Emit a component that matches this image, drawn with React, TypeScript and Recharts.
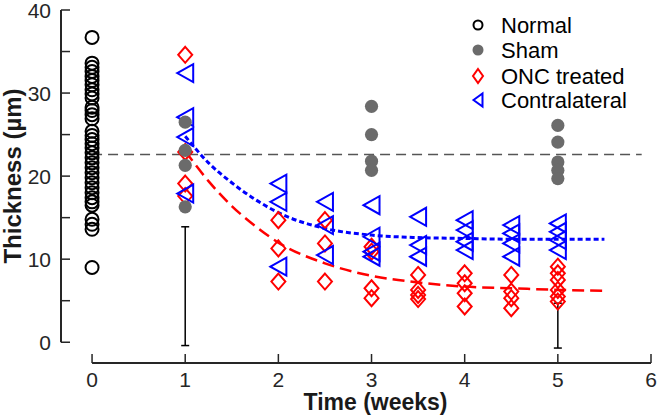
import { ComposedChart, Scatter, Line, XAxis, YAxis, ErrorBar, ReferenceLine, Legend } from "recharts"

// thickness values (µm)
const normalWeek0 = [36.7, 33.6, 33.1, 32.6, 32.0, 31.5, 31.0, 30.4, 29.9, 29.4, 28.3, 27.9, 27.4, 26.9,
  25.4, 24.9, 24.4, 23.9, 23.4, 22.8, 22.2, 21.6, 21.0, 20.4, 19.8, 19.2, 18.6, 18.0, 17.4, 16.9, 16.5,
  14.8, 14.2, 13.6, 9.0]

const shamWeeks = [1, 3, 5]
const shamValues = [
  [26.5, 23.1, 21.3, 16.3],
  [28.4, 25.0, 21.8, 20.7],
  [26.1, 24.1, 21.7, 20.7, 19.7],
]

const treatedWeeks = [1, 2, 2.5, 3, 3.5, 4, 4.5, 5]
const oncValues = [
  [34.6, 22.9, 19.1, 17.6],
  [14.7, 11.3, 7.3],
  [14.7, 11.9, 7.3],
  [11.5, 10.9, 6.5, 5.3],
  [8.1, 6.3, 5.7, 5.2],
  [8.3, 7.1, 5.9, 4.3],
  [8.1, 6.1, 5.3, 4.1],
  [9.1, 8.3, 7.5, 6.3, 5.5, 4.9],
]
const contraValues = [
  [32.4, 27.1, 24.7, 17.9],
  [19.1, 16.9, 9.1],
  [16.9, 14.1, 10.5],
  [16.5, 12.7, 10.9, 10.3],
  [15.1, 11.7, 10.3],
  [14.7, 13.5, 12.1, 11.1],
  [14.1, 13.1, 11.9, 10.3],
  [14.3, 13.3, 12.3, 11.1],
]

// fitted curves, read at these times
const fitWeeks = [1, 1.25, 1.5, 1.75, 2, 2.5, 3, 3.5, 4, 4.5, 5, 5.5]
const oncFit = [23.0, 19.4, 16.4, 14.0, 12.0, 9.5, 8.0, 7.2, 6.7, 6.5, 6.3, 6.2]
const contraFit = [24.8, 21.6, 19.2, 17.2, 15.6, 13.7, 12.9, 12.6, 12.5, 12.4, 12.4, 12.4]

// normal mean (dashed) line
const normalMean = 22.6
const normalMeanSpan = [0, 5.9]

// range bars
const rangeWeeks = [1, 5]
const rangeTop = [13.9, 4.7]
const rangeBottom = [-0.4, -0.7]

const xTicks = [0, 1, 2, 3, 4, 5, 6]
const yTicks = [0, 5, 10, 15, 20, 25, 30, 35, 40]
const seriesNames = ["Normal", "Sham", "ONC treated", "Contralateral"]

const font = "'Liberation Sans', Arial, sans-serif"
const axisColor = "#262626"
const red = "#ff0000"
const blue = "#0000ff"
const gray = "#6b6b6b"

const spread = (weeks: number[], values: number[][]) =>
  weeks.flatMap((w, i) => values[i].map((v) => ({ x: w, y: v })))

const normalData = normalWeek0.map((v) => ({ x: 0, y: v }))
const shamData = spread(shamWeeks, shamValues)
const oncData = spread(treatedWeeks, oncValues)
const contraData = spread(treatedWeeks, contraValues)
const oncFitData = fitWeeks.map((w, i) => ({ x: w, y: oncFit[i] }))
const contraFitData = fitWeeks.map((w, i) => ({ x: w, y: contraFit[i] }))
const meanData = normalMeanSpan.map((w) => ({ x: w, y: normalMean }))
const rangeData = rangeWeeks.map((w, i) => ({ x: w, y: rangeTop[i], err: [rangeTop[i] - rangeBottom[i], 0] }))

const openCircle = (p: any, r = 6.5) => (
  <circle cx={p.cx} cy={p.cy} r={r} fill="none" stroke="#000" strokeWidth={2} />
)
const dot = (p: any, r = 6.6) => <circle cx={p.cx} cy={p.cy} r={r} fill={gray} />
const diamond = (p: any, w = 7, h = 8) => (
  <path d={`M${p.cx},${p.cy - h} L${p.cx + w},${p.cy} L${p.cx},${p.cy + h} L${p.cx - w},${p.cy} Z`}
    fill="none" stroke={red} strokeWidth={2} />
)
const triangle = (p: any, w = 8, h = 9) => (
  <path d={`M${p.cx - w},${p.cy} L${p.cx + w},${p.cy - h} L${p.cx + w},${p.cy + h} Z`}
    fill="none" stroke={blue} strokeWidth={2} />
)

const XTick = (props: any) => {
  const { x, y, payload } = props
  return (
    <g>
      <line x1={x} y1={y} x2={x} y2={y - 9} stroke={axisColor} strokeWidth={1.5} />
      <text x={x} y={y + 24} textAnchor="middle" fontSize={21} fill={axisColor} fontFamily={font}>
        {payload.value}
      </text>
    </g>
  )
}

const YTick = (props: any) => {
  const { x, y, payload } = props
  return (
    <g>
      <line x1={x} y1={y} x2={x + 9} y2={y} stroke={axisColor} strokeWidth={1.5} />
      {payload.value % 10 === 0 && (
        <text x={x - 10} y={y} dy="0.36em" textAnchor="end" fontSize={21} fill={axisColor} fontFamily={font}>
          {payload.value}
        </text>
      )}
    </g>
  )
}

const LegendBox = () => {
  const markers = [
    openCircle({ cx: 13, cy: 15 }, 4.5),
    dot({ cx: 13, cy: 40 }, 5.5),
    diamond({ cx: 13, cy: 66 }, 5, 7),
    triangle({ cx: 13, cy: 90 }, 4.5, 6.5),
  ]
  return (
    <svg width={190} height={105}>
      {seriesNames.map((n, i) => (
        <g key={n}>
          {markers[i]}
          <text x={36} y={[15, 40, 66, 90][i] + 8} fontSize={22} fill="#000" fontFamily={font}>{n}</text>
        </g>
      ))}
    </svg>
  )
}

const App = () => {
  return (
    <div style={{ position: "absolute", left: 0, top: 0, background: "#fff" }}>
      <ComposedChart width={659} height={416} margin={{ top: 10, right: 8, bottom: 0, left: 0 }}>
        <XAxis type="number" dataKey="x" domain={[-1 / 3, 6]} ticks={xTicks} allowDataOverflow
          axisLine={false} tickLine={false} tickSize={0} tickMargin={0} height={53} tick={<XTick />}
          label={{
            content: (p: any) => (
              <text x={p.viewBox.x + (p.viewBox.width * (3 + 1 / 3)) / (6 + 1 / 3) + 4} y={410} textAnchor="middle"
                fontSize={23} fontWeight="bold" fill="#1a1a1a" fontFamily={font}>Time (weeks)</text>
            ),
          }} />
        <YAxis type="number" dataKey="y" domain={[-2.5, 40]} ticks={yTicks} allowDataOverflow
          axisLine={false} tickLine={false} tickSize={0} tickMargin={0} width={61} tick={<YTick />}
          label={{
            content: () => (
              <text x={21} y={176} transform="rotate(-90 21 176)" textAnchor="middle"
                fontSize={24} fontWeight="bold" fill="#1a1a1a" fontFamily={font}>Thickness (µm)</text>
            ),
          }} />
        <ReferenceLine segment={[{ x: -1 / 3, y: 0 }, { x: -1 / 3, y: 40 }]} ifOverflow="visible"
          stroke={axisColor} strokeWidth={2} />
        <ReferenceLine segment={[{ x: 0, y: -2.5 }, { x: 6, y: -2.5 }]} ifOverflow="visible"
          stroke={axisColor} strokeWidth={2} />
        <Line data={meanData} dataKey="y" stroke="#555" strokeWidth={1.5} strokeDasharray="10 6"
          dot={false} isAnimationActive={false} legendType="none" />
        <Scatter name="Normal" data={normalData} shape={(p: any) => openCircle(p)} isAnimationActive={false} />
        <Scatter name="ONC treated" data={oncData} shape={(p: any) => diamond(p)} isAnimationActive={false} />
        <Scatter name="Contralateral" data={contraData} shape={(p: any) => triangle(p)} isAnimationActive={false} />
        <Line data={oncFitData} dataKey="y" type="monotone" stroke={red} strokeWidth={2.5}
          strokeDasharray="12 6" dot={false} isAnimationActive={false} legendType="none" />
        <Line data={contraFitData} dataKey="y" type="monotone" stroke={blue} strokeWidth={3}
          strokeDasharray="5 3" dot={false} isAnimationActive={false} legendType="none" />
        <Scatter name="Sham" data={shamData} shape={(p: any) => dot(p)} isAnimationActive={false} />
        <Scatter data={rangeData} shape={() => <g />} isAnimationActive={false} legendType="none">
          <ErrorBar dataKey="err" direction="y" width={4} stroke="#000" strokeWidth={1.5} isAnimationActive={false} />
        </Scatter>
        <Legend layout="vertical" align="center" verticalAlign="middle" content={<LegendBox />}
          wrapperStyle={{ top: 10, left: 465, width: 190, height: 105 }} />
      </ComposedChart>
    </div>
  )
}

export default App
